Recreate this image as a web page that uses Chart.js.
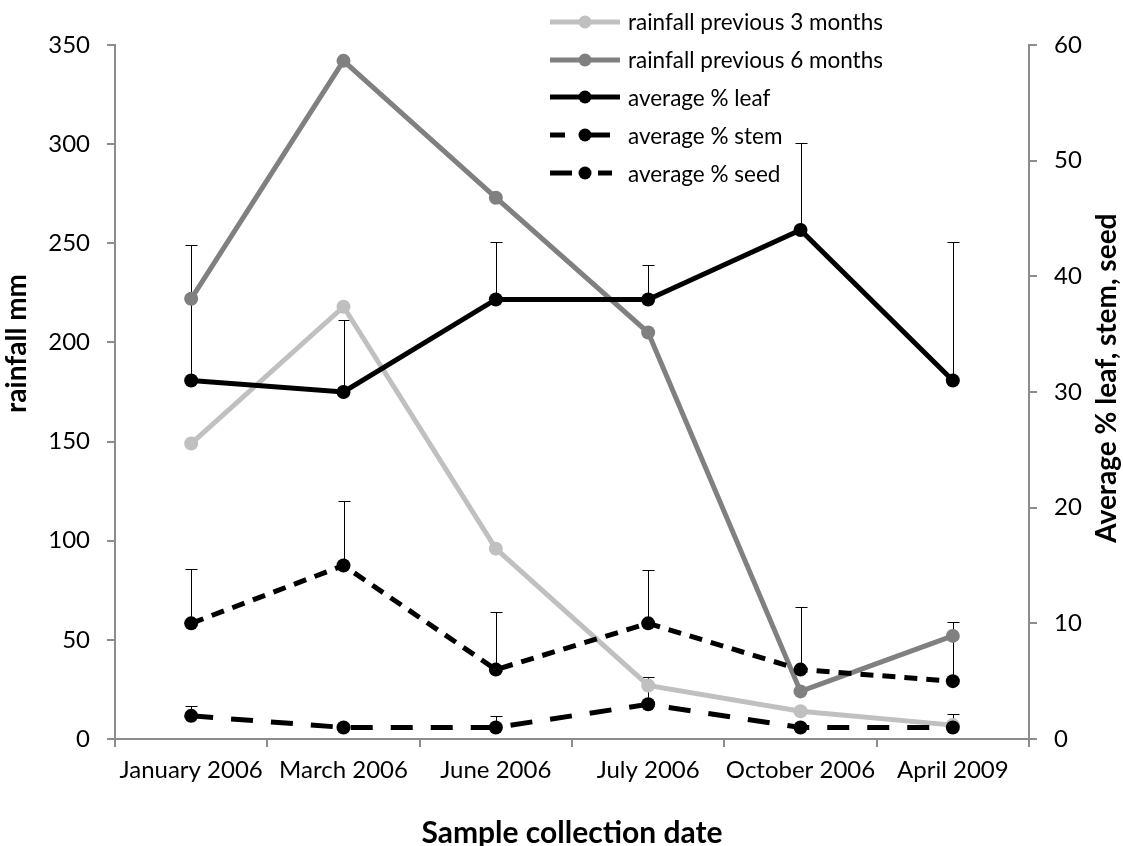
<!DOCTYPE html>
<html>
<head>
<meta charset="utf-8">
<title>Rainfall and plant composition</title>
<script src="https://cdn.jsdelivr.net/npm/chart.js@4.4.1/dist/chart.umd.min.js"></script>
<style>
  html, body { margin: 0; padding: 0; background: #fff; }
  #wrap { position: relative; width: 1123px; height: 846px; }
  #legend { position: absolute; left: 550px; top: 3px; font-family: Lato, "DejaVu Sans", sans-serif; font-size: 22.5px; color: #000; }
  .row { display: flex; align-items: center; height: 37.8px; white-space: nowrap; }
  .row svg { width: 70px; height: 20px; margin-right: 8px; flex: none; }
</style>
</head>
<body>
<div id="wrap">
  <canvas id="chart" width="1123" height="846"></canvas>
  <div id="legend"></div>
</div>
<script>
// Sample collection dates
const categories = ['January 2006', 'March 2006', 'June 2006', 'July 2006', 'October 2006', 'April 2009'];

// Rainfall (mm), left axis
const rain3Months = [149, 218, 96, 27, 14, 7];
const rain6Months = [222, 342, 273, 205, 24, 52];

// Average composition (%), right axis
const leafPct = [31, 30, 38, 38, 44, 31];
const stemPct = [10, 15, 6, 10, 6, 5];
const seedPct = [2, 1, 1, 3, 1, 1];

// Upper error bar lengths (%)
const leafErr = [11.7, 6.2, 5, 3, 7.5, 12];
const stemErr = [4.7, 5.6, 5, 4.6, 5.4, 5.1];
const seedErr = [0.85, 0, 1, 2.4, 0, 1.2];

// Axis ranges
const rainAxis = { min: 0, max: 350, step: 50 };
const pctAxis = { min: 0, max: 60, step: 10 };

const seriesNames = [
  'rainfall previous 3 months',
  'rainfall previous 6 months',
  'average % leaf',
  'average % stem',
  'average % seed'
];
const axisTitles = { x: 'Sample collection date', left: 'rainfall mm', right: 'Average % leaf, stem, seed' };

const FONT = 'Lato, "DejaVu Sans", sans-serif';
const AXIS_GREY = '#8c8c8c';
const LIGHT = '#c0c0c0';
const MID = '#808080';

// Legend line samples: visible segments along a 70px line
const legendSamples = [
  { color: LIGHT, segs: [[0, 70]] },
  { color: MID, segs: [[0, 70]] },
  { color: '#000', segs: [[0, 70]] },
  { color: '#000', segs: [[0, 15], [36, 60]] },
  { color: '#000', segs: [[0, 22], [48, 62]] }
];

function buildLegend() {
  const host = document.getElementById('legend');
  seriesNames.forEach((name, i) => {
    const s = legendSamples[i];
    const row = document.createElement('div');
    row.className = 'row';
    const lines = s.segs.map(([a, b]) =>
      `<line x1="${a}" y1="10" x2="${b}" y2="10" stroke="${s.color}" stroke-width="5"/>`).join('');
    row.innerHTML = `<svg viewBox="0 0 70 20">${lines}<circle cx="35" cy="10" r="6.5" fill="${s.color}"/></svg><span></span>`;
    row.querySelector('span').textContent = name;
    host.appendChild(row);
  });
}

// Upward error bars on the percentage series
const errorBars = {
  id: 'errorBars',
  beforeDatasetsDraw(chart) {
    const { ctx } = chart;
    const yScale = chart.scales.y1;
    const sets = [[2, leafPct, leafErr], [3, stemPct, stemErr], [4, seedPct, seedErr]];
    ctx.save();
    ctx.strokeStyle = '#000';
    ctx.lineWidth = 1;
    sets.forEach(([idx, vals, errs]) => {
      const meta = chart.getDatasetMeta(idx);
      vals.forEach((v, i) => {
        if (!errs[i]) return;
        const x = Math.round(meta.data[i].x) + 0.5;
        const y0 = yScale.getPixelForValue(v);
        const y1 = Math.round(yScale.getPixelForValue(v + errs[i])) + 0.5;
        ctx.beginPath();
        ctx.moveTo(x, y0);
        ctx.lineTo(x, y1);
        ctx.moveTo(x - 6, y1);
        ctx.lineTo(x + 6, y1);
        ctx.stroke();
      });
    });
    ctx.restore();
  }
};

// Vertical axis titles, both reading bottom to top
const sideTitles = {
  id: 'sideTitles',
  afterDraw(chart) {
    const { ctx } = chart;
    const area = chart.chartArea;
    ctx.save();
    ctx.fillStyle = '#000';
    ctx.textAlign = 'center';
    ctx.textBaseline = 'middle';
    const draw = (text, size, x, y) => {
      ctx.save();
      ctx.font = `bold ${size}px ${FONT}`;
      ctx.translate(x, y);
      ctx.rotate(-Math.PI / 2);
      ctx.fillText(text, 0, 0);
      ctx.restore();
    };
    draw(axisTitles.left, 28, chart.scales.y.left + 17, area.top + (area.bottom - area.top) * 0.43);
    draw(axisTitles.right, 28, chart.scales.y1.right - 16, area.top + (area.bottom - area.top) * 0.48);
    ctx.restore();
  }
};

function lineSet(label, data, axis, color, extra) {
  return Object.assign({
    label, data, yAxisID: axis,
    borderColor: color, backgroundColor: color,
    pointBackgroundColor: color, pointBorderColor: color,
    borderWidth: 5, pointRadius: 7, pointBorderWidth: 0,
    pointHoverRadius: 7, tension: 0, fill: false
  }, extra || {});
}

function tickStyle(padding) {
  return { color: '#000', font: { family: FONT, size: 24 }, padding };
}
function gridStyle(offset) {
  return { display: true, drawOnChartArea: false, drawTicks: true, tickLength: 8, color: AXIS_GREY, lineWidth: 2, offset };
}

function draw() {
  buildLegend();
  new Chart(document.getElementById('chart'), {
    type: 'line',
    data: {
      labels: categories,
      datasets: [
        lineSet(seriesNames[0], rain3Months, 'y', LIGHT, { order: 5 }),
        lineSet(seriesNames[1], rain6Months, 'y', MID, { order: 4 }),
        lineSet(seriesNames[2], leafPct, 'y1', '#000', { order: 3 }),
        lineSet(seriesNames[3], stemPct, 'y1', '#000', { order: 2, borderDash: [13, 9] }),
        lineSet(seriesNames[4], seedPct, 'y1', '#000', { order: 1, borderDash: [22, 18] })
      ]
    },
    options: {
      responsive: false,
      animation: false,
      devicePixelRatio: 1,
      layout: { padding: { top: 45, left: 0, right: 0, bottom: 0 } },
      plugins: { legend: { display: false }, tooltip: { enabled: false } },
      scales: {
        x: {
          type: 'category',
          offset: true,
          grid: gridStyle(true),
          border: { display: true, color: AXIS_GREY, width: 2 },
          ticks: Object.assign(tickStyle(9), { maxRotation: 0, autoSkip: false }),
          title: { display: true, text: axisTitles.x, color: '#000', font: { family: FONT, size: 30, weight: 'bold' }, padding: { top: 0, bottom: -5 } },
          afterFit(s) { s.height = 107; }
        },
        y: {
          position: 'left',
          min: rainAxis.min, max: rainAxis.max,
          grid: gridStyle(false),
          border: { display: true, color: AXIS_GREY, width: 2 },
          ticks: Object.assign(tickStyle(17), { stepSize: rainAxis.step }),
          afterFit(s) { s.width = 115; }
        },
        y1: {
          position: 'right',
          min: pctAxis.min, max: pctAxis.max,
          grid: gridStyle(false),
          border: { display: true, color: AXIS_GREY, width: 2 },
          ticks: Object.assign(tickStyle(17), { stepSize: pctAxis.step }),
          afterFit(s) { s.width = 94; }
        }
      }
    },
    plugins: [errorBars, sideTitles]
  });
}

if (document.fonts && document.fonts.load) {
  Promise.all([document.fonts.load(`24px ${FONT}`), document.fonts.load(`bold 30px ${FONT}`)])
    .then(draw, draw);
} else {
  draw();
}
</script>
</body>
</html>
